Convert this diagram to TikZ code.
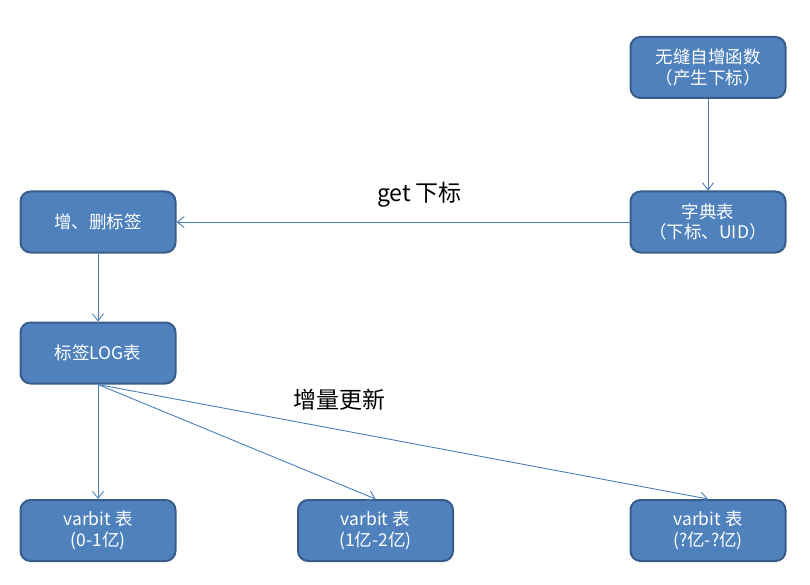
\documentclass[tikz,border=0pt]{standalone}
\usepackage{fontspec}
\setmainfont{Noto Sans CJK SC}
\usetikzlibrary{arrows.meta}
\definecolor{boxfill}{HTML}{4F81BD}
\definecolor{boxedge}{HTML}{385D8A}
\definecolor{linec}{HTML}{4A7EBB}
\tikzset{
  box/.style={draw=boxedge, line width=2pt, fill=boxfill, rounded corners=10pt,
    minimum width=155pt, minimum height=61pt, text=white, align=center,
    font=\fontsize{17.5}{20.5}\selectfont, inner sep=0pt},
  conn/.style={draw=linec, line width=0.9pt, -{Straight Barb[length=7pt,width=11pt,line width=0.9pt]}},
  lbl/.style={text=black, font=\fontsize{23}{26}\selectfont, inner sep=0pt}
}
\begin{document}
\begin{tikzpicture}[x=1pt,y=-1pt]
\useasboundingbox (0,0) rectangle (810,585);
\node[box] (gen) at (708,67.5) {无缝自增函数\\（产生下标）};
\node[box] (dict) at (708,222) {字典表\\（下标、UID）};
\node[box] (tag) at (98,222) {增、删标签};
\node[box] (log) at (98,353) {标签LOG表};
\node[box] (v1) at (98,530.5) {varbit 表\\(0-1亿)};
\node[box] (v2) at (375.5,530.5) {varbit 表\\(1亿-2亿)};
\node[box] (v3) at (708,530.5) {varbit 表\\(?亿-?亿)};
\draw[conn] (gen) -- (dict);
\draw[conn] (dict) -- (tag);
\draw[conn] (tag) -- (log);
\draw[conn] (log.south) -- (v1.north);
\draw[conn] (log.south) -- (v2.north);
\draw[conn] (log.south) -- (v3.north);
\node[lbl] (l1) at (419.5,195) {get 下标};
\node[lbl] (l2) at (339.5,400) {增量更新};
\end{tikzpicture}
\end{document}
